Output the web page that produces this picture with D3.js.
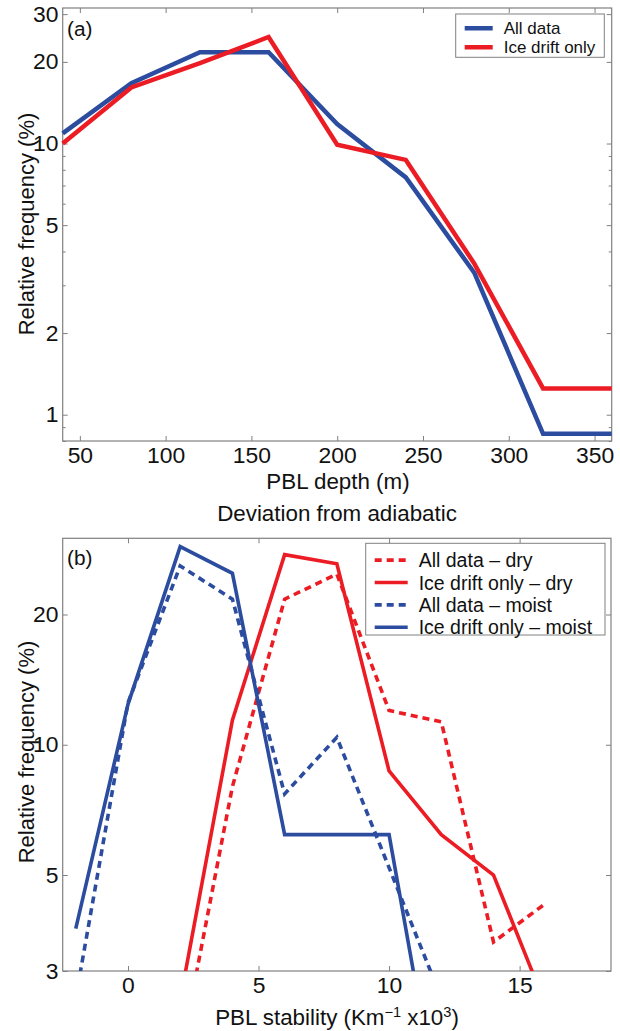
<!DOCTYPE html>
<html>
<head>
<meta charset="utf-8">
<script src="https://cdn.jsdelivr.net/npm/d3@7"></script>
<style>
  body { margin: 0; background: #fff; }
  svg text { font-family: "Liberation Sans", Arial, Helvetica, sans-serif; fill: #111; }
</style>
</head>
<body>
<div id="vis"></div>
<script>
// panel (a): PBL depth distributions
const depthBins = [40, 80, 120, 160, 200, 240, 280, 320, 360];
const depthAll = [10.9, 16.7, 21.7, 21.7, 11.8, 7.5, 3.33, 0.85, 0.85];
const depthIce = [10.0, 16.1, 19.8, 24.7, 9.9, 8.7, 3.6, 1.25, 1.25];
const depthTicks = [50, 100, 150, 200, 250, 300, 350];
const freqTicksA = [1, 2, 5, 10, 20, 30];

// panel (b): stability distributions (null = not drawn)
const stabBins = [-2, 0, 2, 4, 6, 8, 10, 12, 14, 16];
const allDry = [null, null, 1.9, 8.0, 21.7, 24.8, 12.0, 11.3, 3.5, 4.3];
const iceDry = [null, null, 2.57, 11.4, 27.5, 26.2, 8.7, 6.2, 5.0, 2.5];
const allMoist = [2.6, 12.5, 25.9, 21.7, 7.7, 10.4, 5.2, 2.6, null, null];
const iceMoist = [3.76, 12.4, 28.7, 24.9, 6.2, 6.2, 6.2, 1.3, null, null];
const stabTicks = [0, 5, 10, 15];
const freqTicksB = [3, 5, 10, 20];

const BLUE = "#2b4c9f";
const RED = "#ec1c24";
const AXIS_GREY = "#808080";
const TICK_FS = 22;
const SX = 1.04;  // the source figure is slightly wide

const W = 620, H = 1031;
const svg = d3.select("#vis").append("svg")
  .attr("width", W).attr("height", H);

function addText(x, y, str, fs, anchor) {
  return svg.append("text")
    .attr("transform", "translate(" + x + "," + y + ") scale(" + SX + ",1)")
    .attr("text-anchor", anchor || "start")
    .attr("font-size", fs)
    .text(str);
}

// draws box, ticks on all four sides, labels on left/bottom
function drawFrame(x, y, xTicks, yTicks, minor) {
  const [x0, x1] = x.range();
  const [y1, y0] = y.range();
  const g = svg.append("g");

  g.append("g")
    .attr("transform", "translate(0," + y1 + ")")
    .call(d3.axisBottom(x).tickValues(xTicks).tickSizeInner(-5).tickSizeOuter(0).tickPadding(6))
    .call(a => a.select(".domain").remove())
    .call(a => a.selectAll("text").attr("font-size", TICK_FS).attr("transform", "scale(" + SX + ",1)"));
  g.append("g")
    .attr("transform", "translate(0," + y0 + ")")
    .call(d3.axisTop(x).tickValues(xTicks).tickSizeInner(-5).tickSizeOuter(0).tickFormat(""))
    .call(a => a.select(".domain").remove());
  g.append("g")
    .attr("transform", "translate(" + x0 + ",0)")
    .call(d3.axisLeft(y).tickValues(yTicks).tickSizeInner(-5).tickSizeOuter(0).tickPadding(4).tickFormat(d3.format("d")))
    .call(a => a.select(".domain").remove())
    .call(a => a.selectAll("text").attr("font-size", TICK_FS).attr("transform", "scale(" + SX + ",1)"));
  g.append("g")
    .attr("transform", "translate(" + x1 + ",0)")
    .call(d3.axisRight(y).tickValues(yTicks).tickSizeInner(-5).tickSizeOuter(0).tickFormat(""))
    .call(a => a.select(".domain").remove());

  if (minor) {
    g.append("g")
      .attr("transform", "translate(" + x0 + ",0)")
      .call(d3.axisLeft(y).tickValues(minor).tickSizeInner(-3).tickSizeOuter(0).tickFormat(""))
      .call(a => a.select(".domain").remove());
    g.append("g")
      .attr("transform", "translate(" + x1 + ",0)")
      .call(d3.axisRight(y).tickValues(minor).tickSizeInner(-3).tickSizeOuter(0).tickFormat(""))
      .call(a => a.select(".domain").remove());
  }

  g.selectAll(".tick line").attr("stroke", AXIS_GREY);
  g.append("rect")
    .attr("x", x0).attr("y", y0)
    .attr("width", x1 - x0).attr("height", y1 - y0)
    .attr("fill", "none").attr("stroke", AXIS_GREY).attr("stroke-width", 1.2);
}

function legend(x, y, w, h, rows, fs, step, lw) {
  const g = svg.append("g");
  g.append("rect").attr("x", x).attr("y", y).attr("width", w).attr("height", h)
    .attr("fill", "#fff").attr("stroke", AXIS_GREY).attr("stroke-width", 1);
  rows.forEach((r, i) => {
    const cy = y + step * 0.75 + i * step;
    g.append("line")
      .attr("x1", x + 9).attr("x2", x + 9 + r.len).attr("y1", cy).attr("y2", cy)
      .attr("stroke", r.color).attr("stroke-width", lw)
      .attr("stroke-dasharray", r.dash ? "7,5" : null);
    g.append("text").attr("x", x + r.len + 20).attr("y", cy)
      .attr("dominant-baseline", "central").attr("font-size", fs).text(r.label);
  });
}

// ---------- panel (a) ----------
const xA = d3.scaleLinear().domain([40, 360]).range([62.7, 611.7]);
const yA = d3.scaleLog().domain([0.8, 31.6]).range([441, 8]);
const minorA = [0.8, 0.9, 3, 4, 6, 7, 8, 9];

drawFrame(xA, yA, depthTicks, freqTicksA, minorA);

const lineA = d3.line().x((d, i) => xA(depthBins[i])).y(d => yA(d));
svg.append("path").datum(depthAll).attr("d", lineA)
  .attr("fill", "none").attr("stroke", BLUE).attr("stroke-width", 4.5);
svg.append("path").datum(depthIce).attr("d", lineA)
  .attr("fill", "none").attr("stroke", RED).attr("stroke-width", 4.5);

addText(67, 36, "(a)", 20);
addText(338, 489, "PBL depth (m)", 21.5, "middle");
svg.append("text").attr("transform", "translate(34,224) rotate(-90)")
  .attr("text-anchor", "middle").attr("font-size", 22).text("Relative frequency (%)");

legend(455.7, 14, 148.6, 43.3, [
  { label: "All data", color: BLUE, len: 28 },
  { label: "Ice drift only", color: RED, len: 28 }
], 17, 19, 4.5);

// ---------- panel (b) ----------
addText(337, 521, "Deviation from adiabatic", 21.5, "middle");

const xB = d3.scaleLinear().domain([-2.5, 18.5]).range([62.7, 611]);
const yB = d3.scaleLog().domain([3, 30]).range([971, 538.3]);

drawFrame(xB, yB, stabTicks, freqTicksB, null);

svg.append("clipPath").attr("id", "clipB").append("rect")
  .attr("x", xB.range()[0]).attr("y", yB.range()[1])
  .attr("width", xB.range()[1] - xB.range()[0]).attr("height", yB.range()[0] - yB.range()[1]);

const lineB = d3.line()
  .defined(d => d != null)
  .x((d, i) => xB(stabBins[i])).y(d => yB(d));

const seriesB = [
  { data: allDry, color: RED, dash: true },
  { data: iceDry, color: RED, dash: false },
  { data: allMoist, color: BLUE, dash: true },
  { data: iceMoist, color: BLUE, dash: false }
];
const gB = svg.append("g").attr("clip-path", "url(#clipB)");
seriesB.forEach(s => {
  gB.append("path").datum(s.data).attr("d", lineB)
    .attr("fill", "none").attr("stroke", s.color).attr("stroke-width", 3.6)
    .attr("stroke-dasharray", s.dash ? "7,5" : null);
});

addText(67, 565, "(b)", 20);
svg.append("text").attr("transform", "translate(34,752) rotate(-90)")
  .attr("text-anchor", "middle").attr("font-size", 22).text("Relative frequency (%)");

const xlabB = addText(337, 1025, "", 21.5, "middle");
xlabB.append("tspan").text("PBL stability (Km");
xlabB.append("tspan").attr("dy", -8).attr("font-size", 14).text("\u22121");
xlabB.append("tspan").attr("dy", 8).text(" x10");
xlabB.append("tspan").attr("dy", -8).attr("font-size", 14).text("3");
xlabB.append("tspan").attr("dy", 8).text(")");

legend(365.7, 543.3, 239.3, 91.7, [
  { label: "All data \u2013 dry", color: RED, dash: true, len: 33 },
  { label: "Ice drift only \u2013 dry", color: RED, dash: false, len: 33 },
  { label: "All data \u2013 moist", color: BLUE, dash: true, len: 33 },
  { label: "Ice drift only \u2013 moist", color: BLUE, dash: false, len: 33 }
], 19.5, 22.4, 3.6);
</script>
</body>
</html>
